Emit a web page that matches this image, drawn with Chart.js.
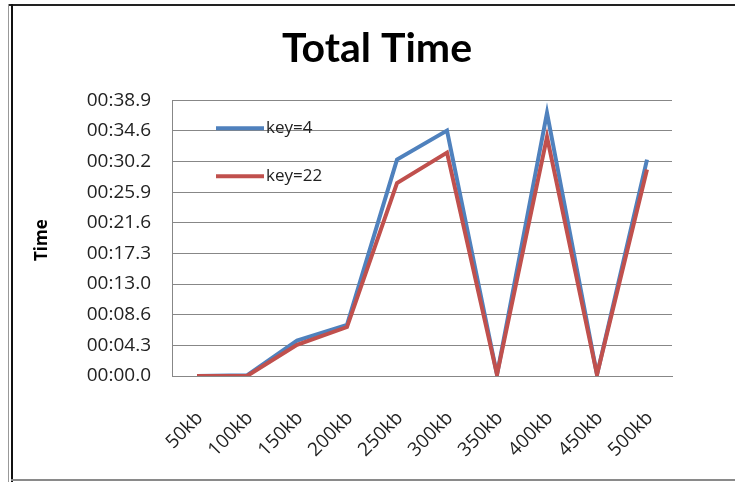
<!DOCTYPE html>
<html>
<head>
<meta charset="utf-8">
<script src="https://cdn.jsdelivr.net/npm/chart.js@4"></script>
<style>
  html, body { margin: 0; padding: 0; background: #fff; }
  #wrap { position: relative; width: 735px; height: 482px; overflow: hidden; }
  #chart { position: absolute; left: 0; top: 0; }
  .frame { position: absolute; pointer-events: none; }
</style>
</head>
<body>
<div id="wrap">
  <canvas id="chart" width="735" height="482"></canvas>
  <div class="frame" style="left:8px;top:4px;width:727px;height:2px;background:#222;"></div>
  <div class="frame" style="left:8px;top:4px;width:1px;height:478px;background:#999;"></div>
  <div class="frame" style="left:11px;top:4px;width:2px;height:478px;background:#111;"></div>
  <div class="frame" style="left:11px;top:479px;width:724px;height:2px;background:#8a8a8a;"></div>
</div>
<script>
// File sizes on the x axis
const categories = ['50kb', '100kb', '150kb', '200kb', '250kb', '300kb', '350kb', '400kb', '450kb', '500kb'];

// Total time in seconds for each key size
const key4Seconds  = [0.0, 0.1, 5.0, 7.2, 30.5, 34.6, 0.2, 37.1, 0.2, 30.5];
const key22Seconds = [0.0, 0.0, 4.4, 6.9, 27.2, 31.5, 0.2, 33.7, 0.2, 29.1];

// Gridline positions on the time axis, in seconds
const yTickSeconds = [0, 4.32, 8.64, 12.96, 17.28, 21.6, 25.92, 30.24, 34.56, 38.88];

const seriesLabels = ['key=4', 'key=22'];
const seriesColors = ['#4F81BD', '#C0504D'];
const yAxisTitle = 'Time';

const TEXT_FONT = '"Open Sans", Lato, sans-serif';
const TITLE_FONT = 'Lato, "Open Sans", sans-serif';

// mm:ss.s formatting for the time axis
function formatTime(sec) {
  const m = Math.floor(sec / 60);
  const s = sec - m * 60;
  return String(m).padStart(2, '0') + ':' + s.toFixed(1).padStart(4, '0');
}

// Legend drawn inside the plot area (top-left) and the rotated axis title
const chartDecor = {
  id: 'chartDecor',
  afterDatasetsDraw(chart) {
    const { ctx, chartArea } = chart;
    ctx.save();
    ctx.font = '17px ' + TEXT_FONT;
    ctx.textBaseline = 'middle';
    ctx.textAlign = 'left';
    chart.data.datasets.forEach((ds, i) => {
      const y = chartArea.top + 28 + i * 48;
      const x0 = chartArea.left + 44;
      ctx.strokeStyle = ds.borderColor;
      ctx.lineWidth = 4;
      ctx.beginPath();
      ctx.moveTo(x0, y);
      ctx.lineTo(x0 + 48, y);
      ctx.stroke();
      ctx.fillStyle = '#222';
      ctx.fillText(ds.label, x0 + 50, y);
    });

    // vertical axis title
    ctx.translate(42, (chartArea.top + chartArea.bottom) / 2 + 2);
    ctx.rotate(-Math.PI / 2);
    ctx.font = 'bold 17px ' + TEXT_FONT;
    ctx.fillStyle = '#000';
    ctx.textAlign = 'center';
    ctx.fillText(yAxisTitle, 0, 0);
    ctx.restore();
  }
};

new Chart(document.getElementById('chart'), {
  type: 'line',
  data: {
    labels: categories,
    datasets: [
      {
        label: seriesLabels[0],
        data: key4Seconds,
        borderColor: seriesColors[0],
        backgroundColor: seriesColors[0],
        borderWidth: 4,
        pointRadius: 0,
        tension: 0,
        order: 1
      },
      {
        label: seriesLabels[1],
        data: key22Seconds,
        borderColor: seriesColors[1],
        backgroundColor: seriesColors[1],
        borderWidth: 4,
        pointRadius: 0,
        tension: 0,
        order: 0
      }
    ]
  },
  options: {
    responsive: false,
    animation: false,
    events: [],
    layout: { padding: { left: 82, right: 63, top: 0, bottom: 0 } },
    plugins: {
      legend: { display: false },
      tooltip: { enabled: false },
      title: {
        display: true,
        text: 'Total Time',
        color: '#000',
        font: { family: TITLE_FONT, size: 41, weight: 'bold', lineHeight: 1.2 },
        padding: { top: 24, bottom: 27 }
      }
    },
    scales: {
      x: {
        offset: true,
        grid: { display: false },
        border: { display: true, color: '#878787', width: 1 },
        ticks: {
          color: '#222',
          font: { family: TEXT_FONT, size: 19 },
          minRotation: 45,
          maxRotation: 45,
          padding: 23,
          labelOffset: 3,
          autoSkip: false
        },
        afterFit(scale) { scale.height = 106; }
      },
      y: {
        min: 0,
        max: 38.88,
        afterBuildTicks(scale) {
          scale.ticks = yTickSeconds.map(v => ({ value: v }));
        },
        grid: { color: '#878787', lineWidth: 1, drawTicks: false },
        border: { display: true, color: '#878787', width: 1 },
        ticks: {
          color: '#222',
          font: { family: TEXT_FONT, size: 19 },
          padding: 21,
          callback: (v) => formatTime(v)
        },
        afterFit(scale) { scale.width = 90; }
      }
    }
  },
  plugins: [chartDecor]
});
</script>
</body>
</html>
